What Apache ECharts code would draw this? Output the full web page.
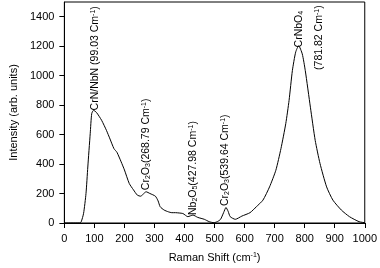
<!DOCTYPE html>
<html>
<head>
<meta charset="utf-8">
<script src="https://cdn.jsdelivr.net/npm/echarts@6/dist/echarts.min.js"></script>
<style>
  html,body{margin:0;padding:0;background:#fff;}
  #main{width:380px;height:268px;}
</style>
</head>
<body>
<div id="main"></div>
<script>
// 拉曼位移 (cm-1)
var ramanShift = [0, 50, 56, 64, 72, 78, 86, 91, 97, 107, 124, 140, 152, 165, 175, 189, 200, 216, 230, 243,
  254, 262, 272, 285, 303, 312, 319, 332, 346, 358, 370, 382, 395, 411, 428, 444, 466, 482, 498, 510,
  520, 530, 538, 545, 552, 569, 591, 618, 639, 661, 683, 704, 721, 737, 748, 759, 770, 780, 792, 802,
  819, 835, 851, 873, 894, 922, 949, 981, 1000];
// 强度
var intensity = [0, 0, 8, 66, 200, 380, 606, 742, 765, 750, 697, 629, 570, 505, 480, 415, 360, 268, 225, 189,
  182, 195, 212, 200, 182, 150, 110, 88, 76, 70, 70, 68, 64, 43, 54, 38, 25, 9, 2, 10,
  25, 70, 105, 80, 43, 25, 47, 70, 110, 155, 245, 358, 505, 674, 832, 1034, 1160, 1203, 1147, 1034,
  786, 561, 404, 245, 155, 88, 43, 9, 2];
var yTicks = [0, 200, 400, 600, 800, 1000, 1200, 1400];
var xTicks = [0, 100, 200, 300, 400, 500, 600, 700, 800, 900, 1000];

// 峰值标注：起点(数据坐标)和文字
var annoX = [102, 272, 430, 536, 780, 849];
var annoY = [764, 223, 54, 115, 1192, 1039];
var annoText = [
  'CrN/NbN (99.03 Cm{sup|-1})',
  'Cr{sub|2}O{sub|3}(268.79 Cm{sup|-1})',
  'Nb{sub|2}O{sub|5}(427.98 Cm{sup|-1})',
  'Cr{sub|2}O{sub|3}(539.64 Cm{sup|-1})',
  'CrNbO{sub|4}',
  '(781.82 Cm{sup|-1})'
];

var font = 'Liberation Sans, Arial, sans-serif';
var seriesData = [];
for (var i = 0; i < ramanShift.length; i++) {
  seriesData.push([ramanShift[i], intensity[i]]);
}
function plain(v) { return String(v); }

var myChart = echarts.init(document.getElementById('main'));
var option = {
  animation: false,
  grid: {
    left: 59, right: 14, top: 2, bottom: 45,
    show: true, borderColor: '#000', borderWidth: 1
  },
  xAxis: {
    type: 'value',
    min: 0, max: 1000, interval: 100,
    name: 'Raman Shift (cm{sup|-1})',
    nameLocation: 'middle',
    nameGap: 29,
    nameTextStyle: {
      color: '#000', fontSize: 11, fontFamily: font,
      rich: { sup: { fontSize: 7, verticalAlign: 'top', color: '#000', fontFamily: font } }
    },
    axisLine: { lineStyle: { color: '#000', width: 1 } },
    axisTick: { show: true, length: 5, lineStyle: { color: '#000' }, customValues: xTicks },
    axisLabel: { color: '#000', fontSize: 11, fontFamily: font, margin: 10, customValues: xTicks, formatter: plain },
    splitLine: { show: false }
  },
  yAxis: {
    type: 'value',
    min: 0, max: 1500, interval: 200,
    name: 'Intensity (arb. units)',
    nameLocation: 'middle',
    nameGap: 44,
    nameTextStyle: { color: '#000', fontSize: 11, fontFamily: font },
    axisLine: { show: true, lineStyle: { color: '#000', width: 1 } },
    axisTick: { show: true, length: 5, lineStyle: { color: '#000' }, customValues: yTicks },
    axisLabel: { color: '#000', fontSize: 11, fontFamily: font, margin: 10, customValues: yTicks, formatter: plain },
    splitLine: { show: false }
  },
  series: [{
    type: 'line',
    data: seriesData,
    smooth: 0.2,
    symbol: 'none',
    lineStyle: { color: '#000', width: 1 }
  }]
};
myChart.setOption(option);

// 竖排标注
var graphics = [];
for (var k = 0; k < annoText.length; k++) {
  var p = myChart.convertToPixel({ gridIndex: 0 }, [annoX[k], annoY[k]]);
  graphics.push({
    type: 'text',
    x: p[0], y: p[1],
    rotation: Math.PI / 2,
    style: {
      text: annoText[k],
      fill: '#000',
      fontSize: 10.5,
      fontFamily: font,
      align: 'left',
      verticalAlign: 'middle',
      rich: {
        sub: { fontSize: 7, verticalAlign: 'bottom', fill: '#000', fontFamily: font },
        sup: { fontSize: 7, verticalAlign: 'top', fill: '#000', fontFamily: font }
      }
    }
  });
}
myChart.setOption({ graphic: graphics });
</script>
</body>
</html>
